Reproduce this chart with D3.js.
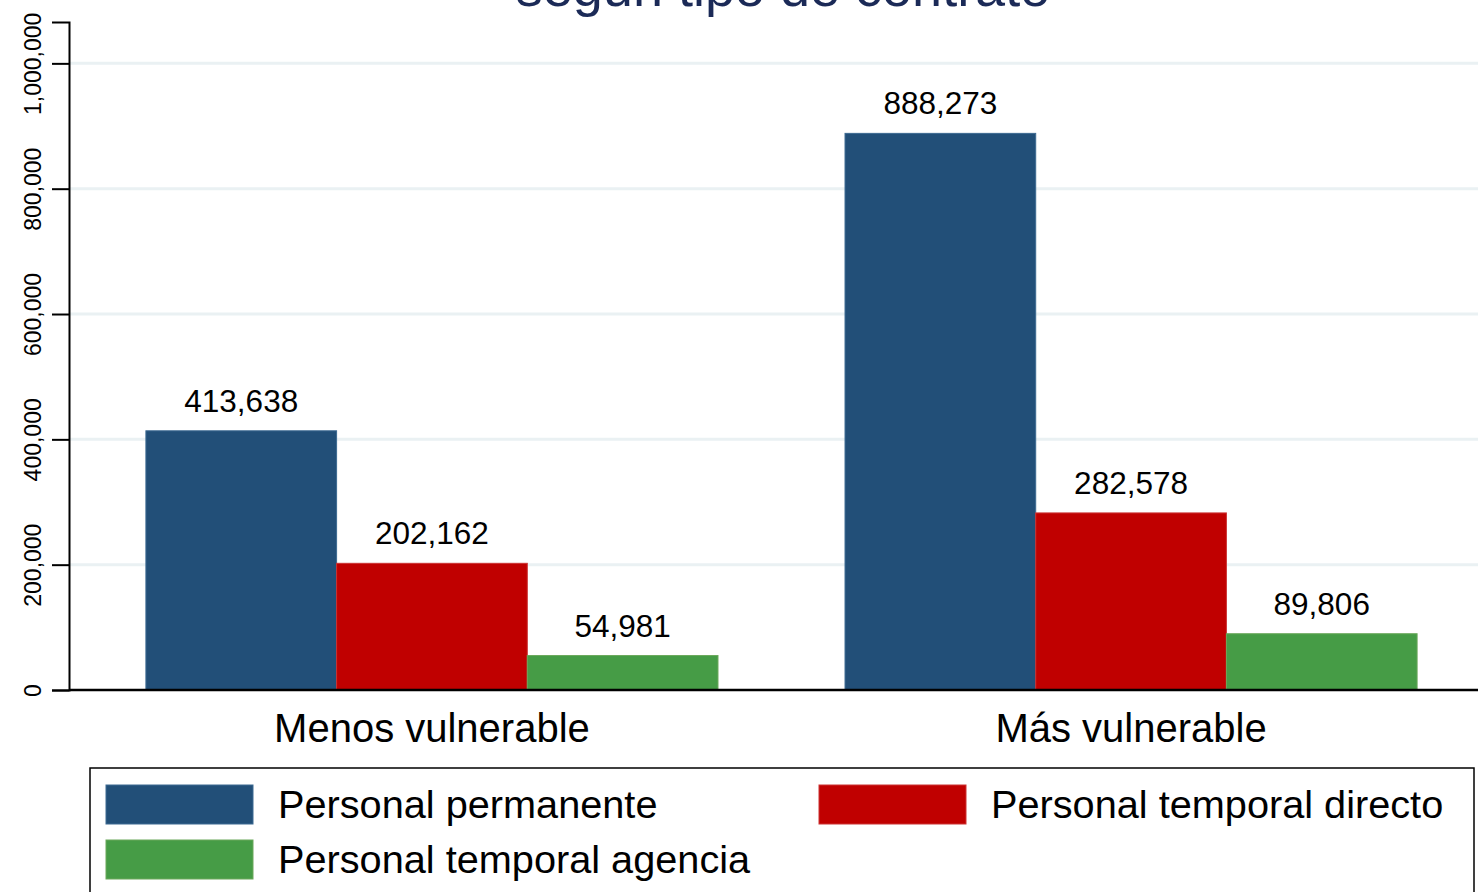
<!DOCTYPE html>
<html>
<head>
<meta charset="utf-8">
<script src="https://cdn.jsdelivr.net/npm/d3@7"></script>
<style>
  body { margin: 0; background: #fff; }
  svg { display: block; font-family: "Liberation Sans", Arial, sans-serif; }
</style>
</head>
<body>
<svg id="chart" width="1478" height="892"></svg>
<script>
// data
var categories = ["Menos vulnerable", "Más vulnerable"];
var seriesNames = ["Personal permanente", "Personal temporal directo", "Personal temporal agencia"];
var permanente = [413638, 888273];
var temporalDirecto = [202162, 282578];
var temporalAgencia = [54981, 89806];
var yTicks = [0, 200000, 400000, 600000, 800000, 1000000];
var colours = ["#224f78", "#c00000", "#469c46"];
var strokes = ["#3d6a92", "#cc3333", "#6aa85a"];

var seriesValues = [permanente, temporalDirecto, temporalAgencia];
var fmt = d3.format(",");

var svg = d3.select("#chart");
var width = 1478, height = 892;

// scales
var x0 = d3.scaleBand()
    .domain(categories)
    .range([69, 1494])
    .paddingInner(0.1817)
    .paddingOuter(0.11);
var x1 = d3.scaleBand()
    .domain(d3.range(seriesNames.length))
    .range([0, x0.bandwidth()]);
var y = d3.scaleLinear()
    .domain([0, 1066000])
    .range([690, 22]);

// title (second line, cut off at the top as in the original)
svg.append("text")
  .attr("x", 783)
  .attr("y", 6)
  .attr("text-anchor", "middle")
  .style("font-size", "54px")
  .style("fill", "#1b2a57")
  .text("según tipo de contrato");

// gridlines
svg.append("g")
  .selectAll("line")
  .data(yTicks.slice(1))
  .enter()
  .append("line")
  .attr("x1", 70)
  .attr("x2", width)
  .attr("y1", function(d) { return y(d); })
  .attr("y2", function(d) { return y(d); })
  .attr("stroke", "#eaf1f3")
  .attr("stroke-width", 3);

// bars
var groups = svg.append("g")
  .selectAll("g")
  .data(categories)
  .enter()
  .append("g")
  .attr("transform", function(d) { return "translate(" + x0(d) + ",0)"; });

groups.selectAll("rect")
  .data(function(d, i) {
    return seriesValues.map(function(s, k) { return {k: k, value: s[i]}; });
  })
  .enter()
  .append("rect")
  .attr("x", function(d) { return x1(d.k); })
  .attr("y", function(d) { return y(d.value); })
  .attr("width", x1.bandwidth())
  .attr("height", function(d) { return y(0) - y(d.value); })
  .attr("fill", function(d) { return colours[d.k]; })
  .attr("stroke", function(d) { return strokes[d.k]; })
  .attr("stroke-width", 1);

// value labels
groups.selectAll("text")
  .data(function(d, i) {
    return seriesValues.map(function(s, k) { return {k: k, value: s[i]}; });
  })
  .enter()
  .append("text")
  .attr("x", function(d) { return x1(d.k) + x1.bandwidth() / 2; })
  .attr("y", function(d) { return y(d.value) - 19; })
  .attr("text-anchor", "middle")
  .style("font-size", "31.5px")
  .style("fill", "#000")
  .text(function(d) { return fmt(d.value); });

// y axis
var yAxis = svg.append("g")
  .attr("transform", "translate(69,0)")
  .call(d3.axisLeft(y).tickValues(yTicks).tickSize(17).tickPadding(0).tickFormat(fmt));
yAxis.select(".domain").attr("stroke", "#000").attr("stroke-width", 2);
yAxis.selectAll(".tick line").attr("stroke", "#000").attr("stroke-width", 2);
yAxis.selectAll(".tick text")
  .attr("x", 0)
  .attr("dy", 0)
  .attr("transform", "translate(-28,0) rotate(-90)")
  .attr("text-anchor", "middle")
  .style("font-size", "23px")
  .style("font-family", "'Liberation Sans', Arial, sans-serif")
  .style("fill", "#000");

// x axis
var xAxis = svg.append("g")
  .attr("transform", "translate(0,690)")
  .call(d3.axisBottom(x0).tickSize(0).tickPadding(0));
xAxis.select(".domain").attr("d", "M69,0H" + width).attr("stroke", "#000").attr("stroke-width", 2.5);
xAxis.selectAll(".tick text")
  .attr("y", 52)
  .attr("dy", 0)
  .style("font-size", "40px")
  .style("font-family", "'Liberation Sans', Arial, sans-serif")
  .style("fill", "#000");

// legend
var legend = svg.append("g");
legend.append("rect")
  .attr("x", 90)
  .attr("y", 768)
  .attr("width", 1384)
  .attr("height", 140)
  .attr("fill", "#fff")
  .attr("stroke", "#000")
  .attr("stroke-width", 1.5);

var legendPos = [[106, 785], [819, 785], [106, 840]];
var items = legend.selectAll("g.item")
  .data(seriesNames)
  .enter()
  .append("g")
  .attr("class", "item")
  .attr("transform", function(d, i) { return "translate(" + legendPos[i][0] + "," + legendPos[i][1] + ")"; });
items.append("rect")
  .attr("width", 147)
  .attr("height", 39)
  .attr("fill", function(d, i) { return colours[i]; })
  .attr("stroke", function(d, i) { return strokes[i]; })
  .attr("stroke-width", 1);
items.append("text")
  .attr("x", 172)
  .attr("y", 33)
  .style("font-size", "39.7px")
  .style("fill", "#000")
  .text(function(d) { return d; });
</script>
</body>
</html>
